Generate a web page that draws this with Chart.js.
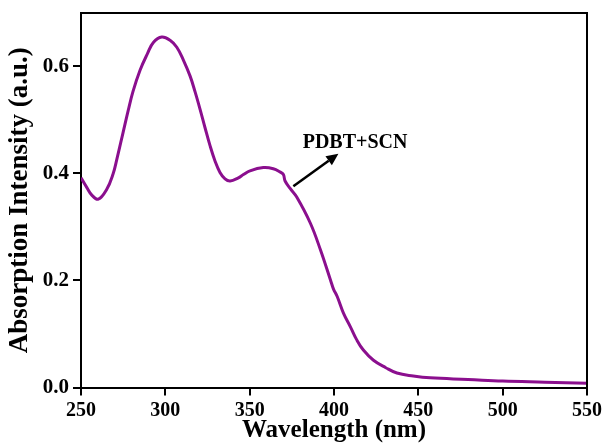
<!DOCTYPE html>
<html>
<head>
<meta charset="utf-8">
<script src="https://cdn.jsdelivr.net/npm/chart.js@4.4.1/dist/chart.umd.min.js"></script>
<style>
  html, body { margin: 0; padding: 0; background: #ffffff; }
  #wrap { width: 607px; height: 446px; position: relative; }
</style>
</head>
<body>
<div id="wrap"><canvas id="c" width="607" height="446"></canvas></div>
<script>
const wavelengths = [250, 253.4, 256.3, 260.3, 265.2, 269.0, 271.2, 274.9, 278.0, 280.8, 285.0, 289.4, 292.9, 297.9, 302.8, 306.8, 310.7, 314.7, 317.6, 320.6, 323.5, 326.5, 329.5, 332.4, 335.4, 338.4, 343.3, 346.3, 350.2, 358.1, 364, 368, 370, 371, 374, 377.9, 386, 392, 397.9, 399.7, 401.9, 405.6, 409.8, 413.5, 417.4, 423.4, 430.7, 437.3, 447, 457, 479.5, 500, 525, 550];
const absorbance  = [0.392, 0.374, 0.360, 0.352, 0.370, 0.399, 0.426, 0.476, 0.518, 0.553, 0.593, 0.624, 0.645, 0.655, 0.649, 0.636, 0.612, 0.582, 0.553, 0.520, 0.486, 0.452, 0.423, 0.402, 0.390, 0.386, 0.392, 0.398, 0.405, 0.411, 0.409, 0.403, 0.398, 0.386, 0.372, 0.356, 0.307, 0.257, 0.201, 0.184, 0.170, 0.139, 0.113, 0.089, 0.070, 0.051, 0.037, 0.027, 0.0215, 0.018, 0.015, 0.012, 0.010, 0.008];
const xTicks = [250, 300, 350, 400, 450, 500, 550];
const yTicks = [0.0, 0.2, 0.4, 0.6];
const seriesLabel = 'PDBT+SCN';
const xTitle = 'Wavelength (nm)';
const yTitle = 'Absorption Intensity (a.u.)';
const annotation = { text: 'PDBT+SCN', textX: 412.5, textY: 0.458, fromX: 375.9, fromY: 0.376, toX: 402.6, toY: 0.437 };

const FONT = '"Liberation Serif", "Times New Roman", serif';

const framePlugin = {
  id: 'frame',
  afterDraw(chart) {
    const { ctx, chartArea: a, scales } = chart;
    ctx.save();
    ctx.strokeStyle = '#000';
    ctx.lineWidth = 2;
    ctx.beginPath();
    ctx.moveTo(a.left, a.top);
    ctx.lineTo(a.right, a.top);
    ctx.lineTo(a.right, a.bottom);
    ctx.stroke();
    // arrow
    const x1 = scales.x.getPixelForValue(annotation.fromX);
    const y1 = scales.y.getPixelForValue(annotation.fromY);
    const x2 = scales.x.getPixelForValue(annotation.toX);
    const y2 = scales.y.getPixelForValue(annotation.toY);
    const ang = Math.atan2(y2 - y1, x2 - x1);
    const hl = 12, hw = 5.5;
    const bx = x2 - hl * Math.cos(ang), by = y2 - hl * Math.sin(ang);
    ctx.lineWidth = 2.5;
    ctx.beginPath();
    ctx.moveTo(x1, y1);
    ctx.lineTo(bx, by);
    ctx.stroke();
    ctx.fillStyle = '#000';
    ctx.beginPath();
    ctx.moveTo(x2, y2);
    ctx.lineTo(bx + hw * Math.sin(ang), by - hw * Math.cos(ang));
    ctx.lineTo(bx - hw * Math.sin(ang), by + hw * Math.cos(ang));
    ctx.closePath();
    ctx.fill();
    // label
    ctx.font = 'bold 20px ' + FONT;
    ctx.textAlign = 'center';
    ctx.textBaseline = 'middle';
    ctx.fillText(annotation.text, scales.x.getPixelForValue(annotation.textX), scales.y.getPixelForValue(annotation.textY));
    ctx.restore();
  }
};

new Chart(document.getElementById('c'), {
  type: 'line',
  data: {
    datasets: [{
      label: seriesLabel,
      data: wavelengths.map((w, i) => ({ x: w, y: absorbance[i] })),
      borderColor: '#8B0F8E',
      borderWidth: 3,
      pointRadius: 0,
      tension: 0.4,
      fill: false
    }]
  },
  options: {
    responsive: false,
    animation: false,
    devicePixelRatio: 1,
    layout: { padding: { left: 0, right: 20, top: 13, bottom: 0 } },
    plugins: { legend: { display: false }, tooltip: { enabled: false } },
    scales: {
      x: {
        type: 'linear',
        min: 250, max: 550,
        afterBuildTicks: s => { s.ticks = xTicks.map(v => ({ value: v })); },
        afterFit: s => { s.height = 58.5; },
        border: { display: true, color: '#000', width: 2 },
        grid: { display: true, drawOnChartArea: false, drawTicks: true, tickLength: 8, color: '#000', lineWidth: 2 },
        ticks: { color: '#000', padding: 3, maxRotation: 0, font: { family: FONT, size: 20, weight: 'bold' } },
        title: { display: true, text: xTitle, color: '#000', padding: { top: 0, bottom: 0 }, font: { family: FONT, size: 25, weight: 'bold' } }
      },
      y: {
        type: 'linear',
        min: 0, max: 0.7,
        afterBuildTicks: s => { s.ticks = yTicks.map(v => ({ value: v })); },
        afterFit: s => { s.width = 81; s.paddingTop = 0; s.paddingBottom = 0; },
        border: { display: true, color: '#000', width: 2 },
        grid: { display: true, drawOnChartArea: false, drawTicks: true, tickLength: 8, color: '#000', lineWidth: 2 },
        ticks: { color: '#000', padding: 4, callback: v => v.toFixed(1), font: { family: FONT, size: 21, weight: 'bold' } },
        title: { display: true, text: yTitle, color: '#000', padding: { top: 4, bottom: 0 }, font: { family: FONT, size: 27, weight: 'bold' } }
      }
    }
  },
  plugins: [framePlugin]
});
</script>
</body>
</html>
